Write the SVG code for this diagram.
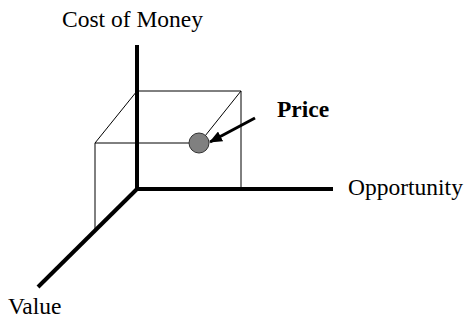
<svg xmlns="http://www.w3.org/2000/svg" width="465" height="320" viewBox="0 0 465 320">
<style>
.lbl{font-family:"Liberation Serif","Times New Roman",serif;font-size:23.5px;fill:#000}
.bold{font-weight:bold}
.axis{stroke:#000;stroke-width:4;fill:none;stroke-linecap:butt}
.thin{stroke:#000;stroke-width:1;fill:none}
</style>
<defs>
<marker id="ah" viewBox="0 0 13 11" refX="12" refY="5.5" markerWidth="13" markerHeight="11" orient="auto" markerUnits="userSpaceOnUse">
<path d="M0,0 L13,5.5 L0,11 z" fill="#000"/>
</marker>
</defs>
<g id="connectors">
<path class="thin" d="M95,231 V143 H189"/>
<path class="thin" d="M95,143 L137,91 H241 V189"/>
<path class="thin" d="M241,91 L205,136"/>
<path class="axis" d="M137,45 V189 H333"/>
<path class="axis" d="M137,189 L38,287"/>
<line x1="255" y1="118" x2="210" y2="142" stroke="#000" stroke-width="3" marker-end="url(#ah)"/>
</g>
<g id="price-point">
<circle cx="199" cy="143" r="10" fill="#808080" stroke="#333" stroke-width="1"/>
</g>
<g id="label-cost"><text class="lbl" x="62" y="27">Cost of Money</text></g>
<g id="label-price"><text class="lbl bold" x="277" y="117">Price</text></g>
<g id="label-opportunity"><text class="lbl" x="348" y="195">Opportunity</text></g>
<g id="label-value"><text class="lbl" x="8" y="314">Value</text></g>
</svg>
